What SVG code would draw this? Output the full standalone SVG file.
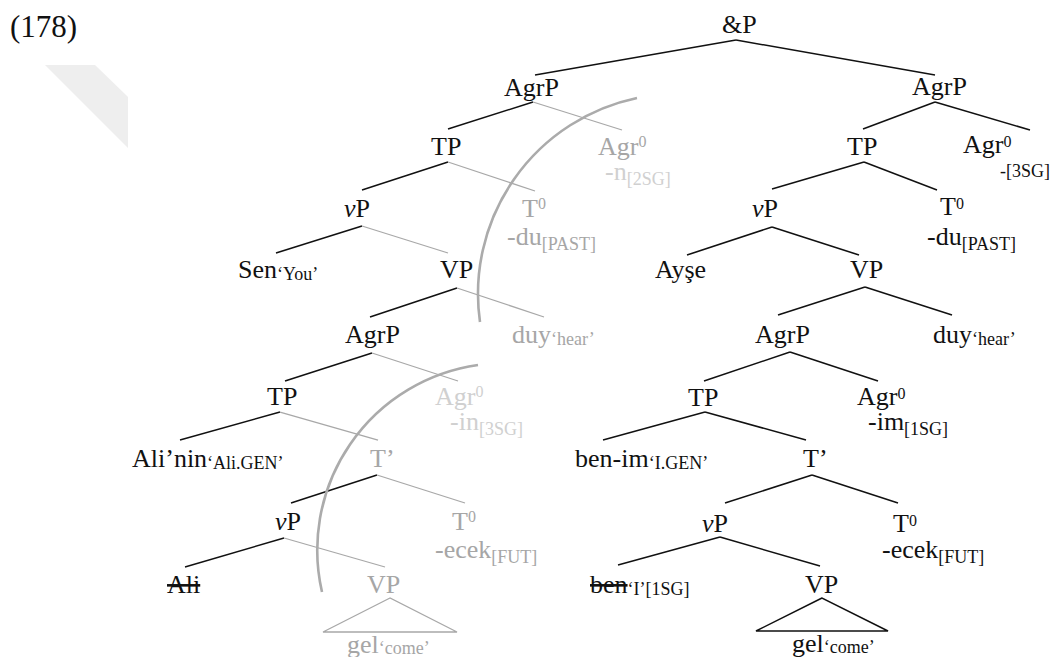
<svg xmlns="http://www.w3.org/2000/svg" width="1053" height="657" viewBox="0 0 1053 657">
<style>
text{font-family:"Liberation Serif","Times New Roman",serif;font-size:26px;fill:#111}
.g{fill:#a6a6a6}
.l{fill:#d0d0d0}
.s{font-size:18px}
.sup{font-size:16px}
.it{font-style:italic}
.st{text-decoration:line-through}
.bk{stroke:#111;stroke-width:1.5;fill:none}
.gr{stroke:#a8a8a8;stroke-width:1.3;fill:none}
.arc{stroke:#ababab;stroke-width:2.6;fill:none}
</style>
<rect width="1053" height="657" fill="#fff"/>
<polygon points="45,65 95,65 128,97 128,148" fill="#eeeeee"/>
<text id="ex" x="10" y="37" style="font-size:31px">(178)</text>
<g id="connectors">
<line class="bk" x1="736" y1="40" x2="535" y2="75"/>
<line class="bk" x1="736" y1="40" x2="935" y2="75"/>
<line class="bk" x1="533" y1="102" x2="448" y2="129"/>
<line class="gr" x1="533" y1="102" x2="622" y2="130"/>
<line class="bk" x1="448" y1="162" x2="362" y2="190"/>
<line class="gr" x1="448" y1="162" x2="535" y2="191"/>
<line class="bk" x1="362" y1="226" x2="276" y2="253"/>
<line class="gr" x1="362" y1="226" x2="448" y2="253"/>
<line class="bk" x1="457" y1="288" x2="370" y2="317"/>
<line class="gr" x1="457" y1="288" x2="544" y2="317"/>
<line class="bk" x1="372" y1="353" x2="285" y2="381"/>
<line class="gr" x1="372" y1="353" x2="458" y2="381"/>
<line class="bk" x1="280" y1="412" x2="180" y2="440"/>
<line class="gr" x1="280" y1="412" x2="378" y2="440"/>
<line class="bk" x1="377" y1="475" x2="291" y2="503"/>
<line class="gr" x1="377" y1="475" x2="465" y2="503"/>
<line class="bk" x1="284" y1="538" x2="185" y2="567"/>
<line class="gr" x1="284" y1="538" x2="385" y2="567"/>
<polygon class="gr" points="390,598 323,632 457,632"/>
<line class="bk" x1="935" y1="102" x2="863" y2="129"/>
<line class="bk" x1="935" y1="102" x2="1030" y2="130"/>
<line class="bk" x1="864" y1="162" x2="772" y2="189"/>
<line class="bk" x1="864" y1="162" x2="937" y2="190"/>
<line class="bk" x1="772" y1="227" x2="687" y2="255"/>
<line class="bk" x1="772" y1="227" x2="859" y2="255"/>
<line class="bk" x1="865" y1="287" x2="778" y2="315"/>
<line class="bk" x1="865" y1="287" x2="952" y2="315"/>
<line class="bk" x1="790" y1="352" x2="704" y2="381"/>
<line class="bk" x1="790" y1="352" x2="878" y2="381"/>
<line class="bk" x1="705" y1="412" x2="603" y2="440"/>
<line class="bk" x1="705" y1="412" x2="806" y2="440"/>
<line class="bk" x1="812" y1="475" x2="725" y2="503"/>
<line class="bk" x1="812" y1="475" x2="898" y2="503"/>
<line class="bk" x1="720" y1="537" x2="618" y2="565"/>
<line class="bk" x1="720" y1="537" x2="820" y2="566"/>
<polygon class="bk" points="822,598 756,631 888,631"/>
<path class="arc" d="M 637 98 A 200 200 0 0 0 480 322"/>
<path class="arc" d="M 478 365 A 187 187 0 0 0 322 592"/>
</g>
<g id="n-andP"><text x="722" y="33">&amp;P</text></g>
<g id="n-L-AgrP1"><text x="504" y="96">AgrP</text></g>
<g id="n-L-Agr0-1"><text x="598" y="155" class="g">Agr<tspan class="sup" dy="-8">0</tspan></text><text x="605" y="180" class="l">-n<tspan class="s" dy="5">[2SG]</tspan></text></g>
<g id="n-L-TP1"><text x="431" y="155">TP</text></g>
<g id="n-L-T0-1"><text x="522" y="217" class="g">T<tspan class="sup" dy="-8">0</tspan></text><text x="507" y="245" class="g">-du<tspan class="s" dy="5">[PAST]</tspan></text></g>
<g id="n-L-vP1"><text x="344" y="217"><tspan class="it">v</tspan>P</text></g>
<g id="n-L-Sen"><text x="238" y="278">Sen<tspan class="s" dy="2">‘You’</tspan></text></g>
<g id="n-L-VP1"><text x="440" y="278">VP</text></g>
<g id="n-L-duy"><text x="512" y="343" class="g">duy<tspan class="s" dy="2">‘hear’</tspan></text></g>
<g id="n-L-AgrP2"><text x="345" y="343">AgrP</text></g>
<g id="n-L-Agr0-2"><text x="435" y="405" class="l">Agr<tspan class="sup" dy="-8">0</tspan></text><text x="450" y="430" class="l">-in<tspan class="s" dy="5">[3SG]</tspan></text></g>
<g id="n-L-TP2"><text x="267" y="405">TP</text></g>
<g id="n-L-Alinin"><text x="132" y="467">Ali’nin<tspan class="s" dy="2">‘Ali.GEN’</tspan></text></g>
<g id="n-L-Tbar"><text x="370" y="467" class="g">T’</text></g>
<g id="n-L-vP2"><text x="275" y="530"><tspan class="it">v</tspan>P</text></g>
<g id="n-L-T0-2"><text x="452" y="530" class="g">T<tspan class="sup" dy="-8">0</tspan></text><text x="435" y="558" class="g">-ecek<tspan class="s" dy="5">[FUT]</tspan></text></g>
<g id="n-L-Ali"><text x="167" y="593" class="st">Ali</text></g>
<g id="n-L-VP2"><text x="367" y="593" class="g">VP</text></g>
<g id="n-L-gel"><text x="347" y="653" class="g">gel<tspan class="s" dy="1">‘come’</tspan></text></g>
<g id="n-R-AgrP1"><text x="912" y="95">AgrP</text></g>
<g id="n-R-Agr0-1"><text x="963" y="153">Agr<tspan class="sup" dy="-6">0</tspan></text><text x="1000" y="177" class="s">-[3SG]</text></g>
<g id="n-R-TP1"><text x="847" y="155">TP</text></g>
<g id="n-R-T0-1"><text x="940" y="215">T<tspan class="sup" dy="-6">0</tspan></text><text x="927" y="245">-du<tspan class="s" dy="5">[PAST]</tspan></text></g>
<g id="n-R-vP1"><text x="752" y="217"><tspan class="it">v</tspan>P</text></g>
<g id="n-R-Ayse"><text x="655" y="278">Ayşe</text></g>
<g id="n-R-VP1"><text x="850" y="278">VP</text></g>
<g id="n-R-duy"><text x="933" y="343">duy<tspan class="s" dy="2">‘hear’</tspan></text></g>
<g id="n-R-AgrP2"><text x="755" y="343">AgrP</text></g>
<g id="n-R-Agr0-2"><text x="857" y="405">Agr<tspan class="sup" dy="-6">0</tspan></text><text x="868" y="430">-im<tspan class="s" dy="5">[1SG]</tspan></text></g>
<g id="n-R-TP2"><text x="688" y="406">TP</text></g>
<g id="n-R-benim"><text x="575" y="467">ben-im<tspan class="s" dy="2">‘I.GEN’</tspan></text></g>
<g id="n-R-Tbar"><text x="803" y="467">T’</text></g>
<g id="n-R-vP2"><text x="702" y="532"><tspan class="it">v</tspan>P</text></g>
<g id="n-R-T0-2"><text x="893" y="532">T<tspan class="sup" dy="-6">0</tspan></text><text x="882" y="558">-ecek<tspan class="s" dy="5">[FUT]</tspan></text></g>
<g id="n-R-ben"><text x="590" y="593"><tspan class="st">ben</tspan><tspan class="s" dy="2">‘I’[1SG]</tspan></text></g>
<g id="n-R-VP2"><text x="805" y="593">VP</text></g>
<g id="n-R-gel"><text x="792" y="652">gel<tspan class="s" dy="1">‘come’</tspan></text></g>
</svg>
